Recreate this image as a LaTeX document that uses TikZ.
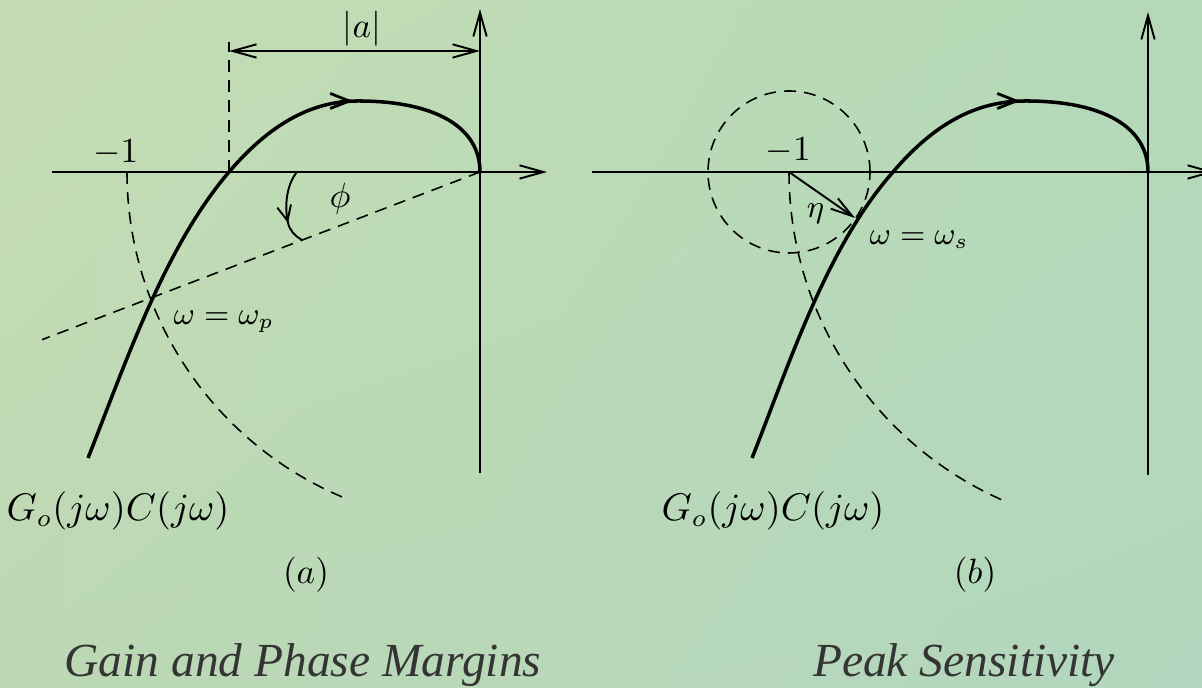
\documentclass[tikz,border=0pt]{standalone}
\usepackage{fontspec}
\usepackage{amsmath}
\usetikzlibrary{arrows.meta, positioning, shadings}
\newfontfamily\titlefont{Liberation Serif Italic}
\definecolor{paper-ul}{RGB}{197,221,180}
\definecolor{paper-ur}{RGB}{180,217,184}
\definecolor{paper-ll}{RGB}{188,216,180}
\definecolor{paper-lr}{RGB}{178,215,190}
\definecolor{title-gray}{RGB}{52,52,52}

\begin{document}
\begin{tikzpicture}[
    axis/.style={line width=0.55pt, -{Straight Barb[length=6.8pt, width=3.8pt]}},
    dimline/.style={line width=0.55pt, {Straight Barb[length=6.8pt, width=3.8pt]}-{Straight Barb[length=6.8pt, width=3.8pt]}},
    guide/.style={line width=0.45pt, dash pattern=on 3.4pt off 2.3pt},
    nyq/.style={line width=1pt},
    nyqtip/.style={line width=0.8pt, -{Straight Barb[length=5.4pt, width=4.3pt]}},
    angarc/.style={line width=0.55pt},
    angtip/.style={line width=0.55pt, -{Straight Barb[length=4.3pt, width=4pt]}},
    radarrow/.style={line width=0.55pt, -{Straight Barb[length=6.2pt, width=3.6pt]}},
    lbl/.style={inner sep=0pt},
    biglbl/.style={inner sep=0pt, font=\fontsize{10.5}{12}\selectfont},
    sublbl/.style={inner sep=0pt, font=\small},
    title/.style={inner sep=0pt, text=title-gray, font=\titlefont\fontsize{13.5}{16}\selectfont}
]
    % --- Background ---
    \useasboundingbox (0,0) rectangle (12.02,6.88);
    \shade[upper left=paper-ul, upper right=paper-ur, lower left=paper-ll, lower right=paper-lr]
        (0,0) rectangle (12.02,6.88);

    % --- (a) Gain and Phase Margins ---
    \begin{scope}[shift={(4.80,5.16)}]
        \coordinate (oa) at (0,0);
        \coordinate (ma) at (-3.53,0);
        \coordinate (ca) at (-2.51,0);
        \coordinate (wa) at (200.95:3.53);

        % axes
        \draw[axis] (-4.28,0) -- (0.67,0);
        \draw[axis] (0,-3.01) -- (0,1.63);

        % guides
        \draw[guide] (ma) arc[start angle=180, end angle=247.5, radius=3.53];
        \draw[guide] (ca) -- ++(0,1.30);
        \draw[guide] (oa) -- (200.95:4.69);
        \draw[dimline] (-2.51,1.21) -- node[pos=0.53, above, inner sep=1pt] {$|a|$} (0,1.21);

        % Nyquist curve
        \draw[nyq] (-3.92,-2.86) .. controls (-3.55,-1.93) and (-3.16,-0.76) .. (ca)
            .. controls (-2.05,0.54) and (-1.62,0.71) .. (-1.22,0.71)
            .. controls (-0.45,0.71) and (0,0.45) .. (oa);
        \draw[nyqtip] (-1.40,0.71) -- (-1.27,0.71);

        % phase margin
        \draw[angarc] (-1.83,0) .. controls (-1.93,-0.12) and (-1.96,-0.33) .. (-1.92,-0.51)
            .. controls (-1.90,-0.59) and (-1.85,-0.64) .. (-1.78,-0.68);
        \draw[angtip] (-1.936,-0.44) -- (-1.92,-0.51);

        % labels
        \node (m1a) [lbl, anchor=base east] at (-3.41,0.095) {$-1$};
        \node (phi) [lbl] at (-1.40,-0.27) {$\phi$};
        \node (wpa) [sublbl, anchor=base west] at (-3.07,-1.53) {$\omega=\omega_p$};
        \node (gca) [biglbl, anchor=base] at (-3.62,-3.49) {$G_o(j\omega)C(j\omega)$};
        \node (capa) [lbl, anchor=base] at (-1.74,-4.12) {$(a)$};
        \node (tita) [title, anchor=base] at (-1.77,-5.05) {Gain and Phase Margins};
    \end{scope}

    % --- (b) Peak Sensitivity ---
    \begin{scope}[shift={(11.48,5.16)}]
        \coordinate (ob) at (0,0);
        \coordinate (mb) at (-3.59,0);
        \coordinate (cb) at (-2.55,0);
        \coordinate (sb) at (-2.93,-0.46);

        % axes
        \draw[axis] (-5.56,0) -- (0.67,0);
        \draw[axis] (0,-3.03) -- (0,1.60);

        % guides
        \draw[guide] (mb) circle[radius=0.81];
        \draw[guide] (mb) arc[start angle=180, end angle=247, radius=3.59];
        \draw[radarrow] (mb) -- (sb);

        % Nyquist curve
        \draw[nyq] (-3.96,-2.86) .. controls (-3.59,-1.93) and (-3.22,-0.76) .. (cb)
            .. controls (-2.09,0.54) and (-1.66,0.71) .. (-1.22,0.71)
            .. controls (-0.45,0.71) and (0,0.45) .. (ob);
        \draw[nyqtip] (-1.41,0.71) -- (-1.28,0.71);

        % labels
        \node (m1b) [lbl, anchor=base east] at (-3.365,0.11) {$-1$};
        \node (eta) [sublbl, anchor=base] at (-3.325,-0.46) {$\eta$};
        \node (wsb) [sublbl, anchor=base west] at (-2.79,-0.73) {$\omega=\omega_s$};
        \node (gcb) [biglbl, anchor=base] at (-3.75,-3.49) {$G_o(j\omega)C(j\omega)$};
        \node (capb) [lbl, anchor=base] at (-1.73,-4.12) {$(b)$};
        \node (titb) [title, anchor=base] at (-1.84,-5.05) {Peak Sensitivity};
    \end{scope}
\end{tikzpicture}
\end{document}
